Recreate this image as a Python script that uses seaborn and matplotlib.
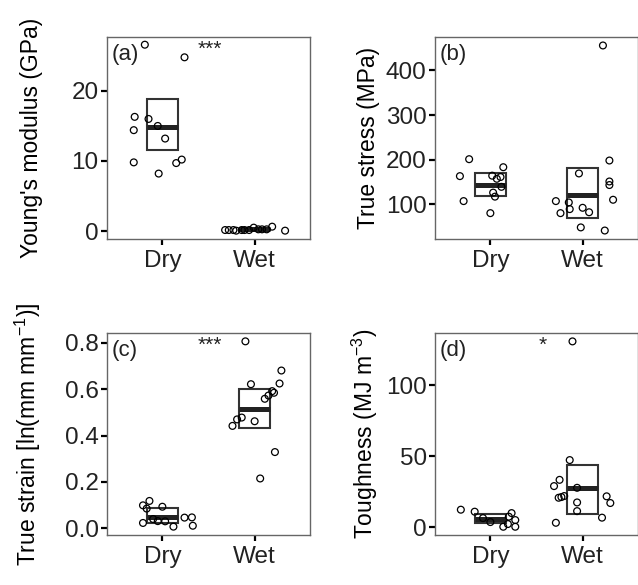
import matplotlib
matplotlib.use("Agg")
import matplotlib.pyplot as plt
import seaborn as sns
import pandas as pd

groups = ["Dry", "Wet"]

# (a) Young's modulus (GPa)
ym_dry = [26.6, 24.8, 16.3, 16.0, 14.4, 15.0, 13.2, 9.8, 8.2, 9.7, 10.2]
ym_dry_jit = [-0.19, 0.24, -0.30, -0.15, -0.31, -0.05, 0.03, -0.31, -0.04, 0.15, 0.21]
ym_wet = [0.14, 0.14, 0.14, 0.05, 0.14, 0.14, 0.14, 0.48, 0.24, 0.24, 0.24, 0.62, 0.05]
ym_wet_jit = [-0.32, -0.28, -0.23, -0.20, -0.14, -0.11, -0.06, -0.01, 0.04, 0.08, 0.13, 0.19, 0.33]
ym_mean = [14.9, 0.25]
ym_lo = [11.5, 0.18]
ym_hi = [18.8, 0.32]

# (b) True stress (MPa)
ts_dry = [201, 163, 107, 80, 183, 164, 161, 157, 139, 126, 117]
ts_dry_jit = [-0.23, -0.33, -0.29, 0.00, 0.14, 0.02, 0.11, 0.07, 0.12, 0.03, 0.05]
ts_wet = [456, 198, 169, 151, 143, 110, 107, 104, 89, 80, 92, 82, 48, 41]
ts_wet_jit = [0.22, 0.29, -0.04, 0.29, 0.29, 0.33, -0.29, -0.15, -0.14, -0.24, 0.00, 0.07, -0.02, 0.24]
ts_mean = [142, 121]
ts_lo = [119, 70]
ts_hi = [170, 182]

# (c) True strain [ln(mm mm-1)]
st_dry = [0.099, 0.118, 0.085, 0.093, 0.023, 0.031, 0.030, 0.007, 0.046, 0.047, 0.011, 0.040]
st_dry_jit = [-0.21, -0.14, -0.17, 0.00, -0.21, -0.05, 0.03, 0.12, 0.24, 0.32, 0.33, -0.10]
st_wet = [0.807, 0.681, 0.625, 0.622, 0.592, 0.585, 0.573, 0.559, 0.478, 0.470, 0.442, 0.462, 0.329, 0.215]
st_wet_jit = [-0.10, 0.29, 0.27, -0.04, 0.19, 0.21, 0.15, 0.11, -0.14, -0.19, -0.24, 0.00, 0.22, 0.06]
st_mean = [0.050, 0.517]
st_lo = [0.022, 0.434]
st_hi = [0.086, 0.602]

# (d) Toughness (MJ m-3)
tg_dry = [12.4, 11.0, 10.0, 7.5, 5.1, 2.3, 0.4, 0.4, 3.7, 6.5]
tg_dry_jit = [-0.32, -0.17, 0.23, 0.20, 0.27, 0.19, 0.14, 0.27, 0.00, -0.08]
tg_wet = [130.8, 47.3, 33.4, 29.0, 20.8, 21.3, 22.0, 27.8, 17.5, 11.4, 21.8, 17.1, 6.8, 3.2]
tg_wet_jit = [-0.11, -0.14, -0.25, -0.31, -0.26, -0.23, -0.20, -0.06, -0.06, -0.06, 0.26, 0.30, 0.21, -0.29]
tg_mean = [5.6, 27.8]
tg_lo = [2.8, 9.3]
tg_hi = [9.3, 43.5]

panels = [
    ("(a)", "Young's modulus (GPa)", ym_dry, ym_dry_jit, ym_wet, ym_wet_jit,
     ym_mean, ym_lo, ym_hi, "***", (-1.14, 27.7), [0, 10, 20]),
    ("(b)", "True stress (MPa)", ts_dry, ts_dry_jit, ts_wet, ts_wet_jit,
     ts_mean, ts_lo, ts_hi, "", (22, 475), [100, 200, 300, 400]),
    ("(c)", "True strain [ln(mm mm$^{-1}$)]", st_dry, st_dry_jit, st_wet, st_wet_jit,
     st_mean, st_lo, st_hi, "***", (-0.029, 0.843), [0.0, 0.2, 0.4, 0.6, 0.8]),
    ("(d)", "Toughness (MJ m$^{-3}$)", tg_dry, tg_dry_jit, tg_wet, tg_wet_jit,
     tg_mean, tg_lo, tg_hi, "*", (-5.4, 136.7), [0, 50, 100]),
]

sns.set_theme(style="white")
plt.rcParams["font.family"] = ["Liberation Sans", "DejaVu Sans"]
plt.rcParams["mathtext.fontset"] = "custom"
plt.rcParams["mathtext.rm"] = "Liberation Sans"
plt.rcParams["mathtext.it"] = "Liberation Sans:italic"

fig = plt.figure(figsize=(6.38, 5.85), dpi=100)
W, H = 638, 585
boxes = [(107, 37), (435, 37), (107, 333), (435, 333)]
star_x = [0.51, 0.5, 0.51, 0.57]

for i, (tag, ylab, dry, dj, wet, wj, mean, lo, hi, star, ylim, yt) in enumerate(panels):
    left, top = boxes[i]
    ax = fig.add_axes([left / W, (H - top - 202) / H, 203 / W, 202 / H])

    df = pd.DataFrame({
        "x": [0 + j for j in dj] + [1 + j for j in wj],
        "value": dry + wet,
    })

    # crossbars
    ax.bar([0, 1], [h - l for h, l in zip(hi, lo)], bottom=lo, width=0.34,
           fill=False, edgecolor="#333333", linewidth=1.5, zorder=2)
    ax.hlines(mean, [-0.17, 0.83], [0.17, 1.17], color="#222222", linewidth=3.6, zorder=2)

    sns.scatterplot(data=df, x="x", y="value", ax=ax, marker="o", s=24,
                    fc="none", ec="black", linewidth=0.9, zorder=3)

    ax.set_xlim(-0.6, 1.6)
    ax.set_ylim(*ylim)
    ax.set_xticks([0, 1])
    ax.set_xticklabels(groups)
    ax.set_yticks(yt)
    ax.set_xlabel("")
    ax.set_ylabel(ylab, fontsize=16.5, color="black")
    ax.yaxis.set_label_coords(-0.315 if i % 2 == 0 else -0.27, 0.5)

    ax.tick_params(axis="both", length=4, width=1.6, color="black",
                   labelsize=17.5, labelcolor="#222222", pad=2,
                   left=True, bottom=True)
    ax.tick_params(axis="x", pad=4)
    for sp in ax.spines.values():
        sp.set_color("#666666")
        sp.set_linewidth(1.0)

    ax.text(0.025, 0.965, tag, transform=ax.transAxes, ha="left", va="top",
            fontsize=16, color="#222222")
    if star:
        ax.text(star_x[i], 0.985, star, transform=ax.get_xaxis_transform(),
                ha="center", va="top", fontsize=15, color="#222222")

fig.savefig("out.png", dpi=100)
